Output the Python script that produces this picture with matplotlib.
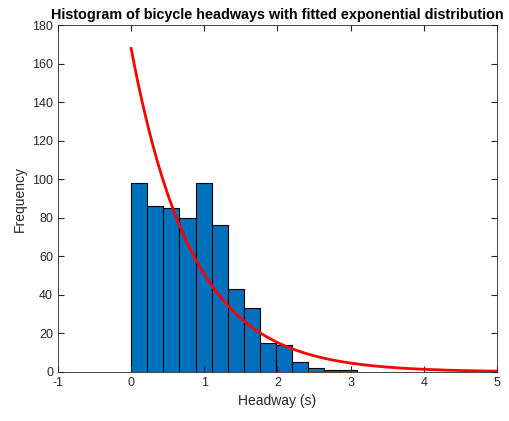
import matplotlib

matplotlib.use("Agg")
import matplotlib.pyplot as plt
import numpy as np

# histogram data (bin edges start at 0, fixed width)
BIN_START = 0.0
BIN_WIDTH = 0.22
COUNTS = [98, 86, 85, 80, 98, 76, 43, 33, 15, 14, 5, 2, 1, 1]

# fitted exponential (mean headway, s)
MU = 0.835
CURVE_RANGE = (0.0, 5.0)

XTICKS = [-1, 0, 1, 2, 3, 4, 5]
YTICKS = list(range(0, 181, 20))

plt.rcParams["font.family"] = ["Liberation Sans", "DejaVu Sans"]
plt.rcParams["axes.unicode_minus"] = False

fig = plt.figure(figsize=(5.1, 4.21), dpi=100)
ax = fig.add_axes([0.1137, 0.1164, 0.8608, 0.8242])

left_edges = BIN_START + BIN_WIDTH * np.arange(len(COUNTS))
ax.bar(left_edges, COUNTS, width=BIN_WIDTH, align="edge",
       color="#0072BD", edgecolor="black", linewidth=0.8)

n_total = sum(COUNTS)
xs = np.linspace(*CURVE_RANGE, 300)
ys = n_total * BIN_WIDTH / MU * np.exp(-xs / MU)
ax.plot(xs, ys, color="red", linewidth=2)

ax.set_xlim(-1, 5)
ax.set_ylim(0, 180)
ax.set_xticks(XTICKS)
ax.set_yticks(YTICKS)
ax.tick_params(direction="in", top=True, right=True, labelsize=9,
               colors="#262626", length=4)
for s in ax.spines.values():
    s.set_color("#262626")
    s.set_linewidth(0.6)

ax.set_xlabel("Headway (s)", fontsize=10, color="#262626")
ax.set_ylabel("Frequency", fontsize=10, color="#262626")
ax.set_title("Histogram of bicycle headways with fitted exponential distribution",
             fontsize=10.4, fontweight="bold", pad=4)

fig.savefig("out.png", dpi=100)
